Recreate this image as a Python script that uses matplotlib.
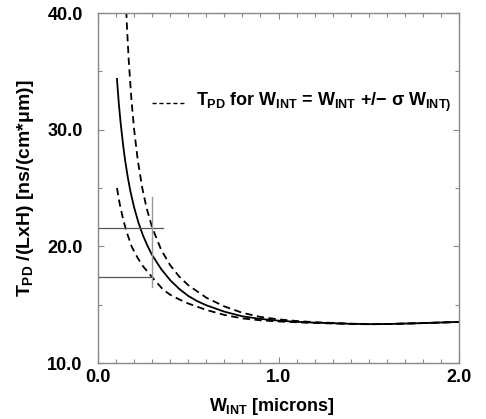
import matplotlib
matplotlib.use("Agg")
import matplotlib.pyplot as plt
from matplotlib.ticker import MultipleLocator

plt.rcParams['font.family'] = ['Liberation Sans', 'DejaVu Sans']
plt.rcParams['font.weight'] = 'bold'
plt.rcParams['mathtext.fontset'] = 'custom'
plt.rcParams['mathtext.rm'] = 'Liberation Sans:bold'
plt.rcParams['mathtext.it'] = 'Liberation Sans:bold'
plt.rcParams['mathtext.bf'] = 'Liberation Sans:bold'

# nominal T_PD curve
x_nom = [0.105, 0.115, 0.125, 0.14, 0.15, 0.165, 0.18, 0.2, 0.225, 0.25, 0.275, 0.3,
         0.35, 0.4, 0.45, 0.5, 0.55, 0.6, 0.7, 0.8, 0.9, 1.0, 1.1, 1.2, 1.4, 1.5,
         1.6, 1.8, 2.0]
y_nom = [34.35, 32.3, 30.64, 28.56, 27.4, 25.92, 24.69, 23.34, 21.99, 20.9, 20.02, 19.25,
         18.05, 17.1, 16.35, 15.75, 15.3, 14.95, 14.4, 14.0, 13.78, 13.63, 13.53, 13.46,
         13.36, 13.33, 13.34, 13.42, 13.52]

# upper (W_INT - sigma) curve
x_up = [0.15, 0.16, 0.17, 0.185, 0.2, 0.22, 0.245, 0.27, 0.3, 0.35, 0.4, 0.45, 0.5,
        0.6, 0.7, 0.8, 0.9, 1.0, 1.1, 1.2, 1.4, 1.5, 1.6, 1.8, 2.0]
y_up = [42.65, 38.94, 36.0, 32.61, 30.03, 27.42, 25.02, 23.23, 21.62, 19.7, 18.38, 17.41,
        16.67, 15.6, 14.85, 14.3, 13.95, 13.74, 13.6, 13.5, 13.37, 13.33, 13.34, 13.42, 13.52]

# lower (W_INT + sigma) curve
x_lo = [0.105, 0.12, 0.14, 0.16, 0.187, 0.22, 0.25, 0.3, 0.36, 0.4, 0.45, 0.5, 0.6,
        0.7, 0.8, 0.9, 1.0, 1.1, 1.2, 1.4, 1.5, 1.6, 1.8, 2.0]
y_lo = [25.0, 23.66, 22.26, 21.17, 19.96, 19.0, 18.28, 17.35, 16.3, 15.85, 15.45, 15.1,
        14.55, 14.12, 13.82, 13.66, 13.56, 13.49, 13.43, 13.35, 13.32, 13.34, 13.42, 13.52]

# marker lines at W_INT = 0.3
w_mark = 0.3
h_upper = 21.6
h_upper_end = 0.36
h_lower = 17.35
v_range = (16.5, 24.2)

fig = plt.figure(figsize=(4.86, 4.19), dpi=100)
ax = fig.add_axes([98/486, 56/419, 361/486, 350/419])

ax.plot(x_nom, y_nom, color='black', lw=1.3)
ax.plot(x_up, y_up, color='black', lw=1.3, ls=(0, (4, 2.5)))
ax.plot(x_lo, y_lo, color='black', lw=1.3, ls=(0, (4, 2.5)))

ax.plot([0, h_upper_end], [h_upper, h_upper], color='#555555', lw=0.9)
ax.plot([0, w_mark], [h_lower, h_lower], color='#555555', lw=0.9)
ax.plot([w_mark, w_mark], list(v_range), color='#999999', lw=1.0)

ax.set_xlim(0, 2.0)
ax.set_ylim(10, 40)
ax.xaxis.set_minor_locator(MultipleLocator(0.1))
ax.yaxis.set_minor_locator(MultipleLocator(5))
ax.set_xticks([0, 1, 2])
ax.set_xticklabels(['0.0', '1.0', '2.0'])
ax.set_yticks([10, 20, 30, 40])
ax.set_yticklabels(['10.0', '20.0', '30.0', '40.0'])

ax.tick_params(which='both', direction='in', top=True, right=True, color='#888888')
ax.tick_params(which='major', length=4, labelsize=13, width=0.8)
ax.tick_params(which='minor', length=3, width=0.8)
ax.tick_params(axis='y', pad=11)
ax.tick_params(axis='x', pad=4)
for lab in ax.get_xticklabels() + ax.get_yticklabels():
    lab.set_fontweight('bold')
for s in ax.spines.values():
    s.set_color('#888888')
    s.set_linewidth(1.0)

ax.set_xlabel(r'$W_{INT}$ [microns]', fontsize=13, fontweight='bold', labelpad=6)
ax.xaxis.set_label_coords(0.483, -0.095)
ax.set_ylabel(r'$T_{PD}$ /(LxH) [ns/(cm*$\mu$m)]', fontsize=14, fontweight='bold')
ax.yaxis.set_label_coords(-0.172, 0.5)

ax.plot([0.30, 0.49], [32.3, 32.3], color='black', lw=1.0, ls=(0, (3, 2)))
ax.text(0.545, 32.3, r'$T_{PD}$ for $W_{INT}$ = $W_{INT}$ +/$-$ $\sigma$ $W_{INT)}$',
        fontsize=13, fontweight='bold', va='center', ha='left')

fig.savefig('out.png', dpi=100)
